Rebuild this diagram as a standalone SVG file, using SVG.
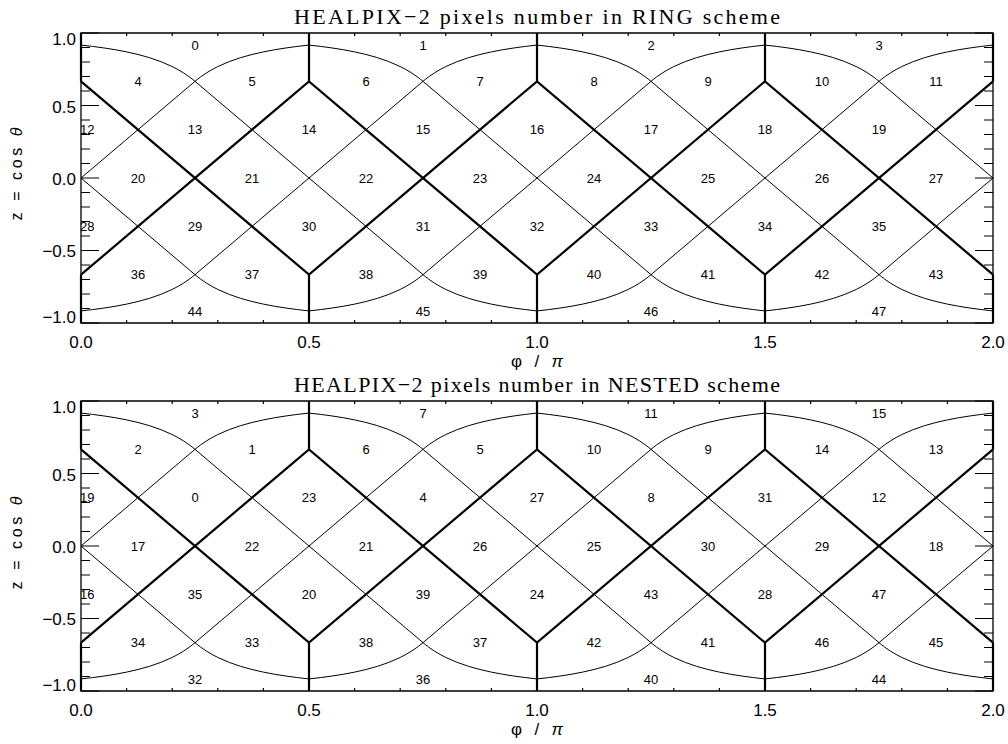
<svg xmlns="http://www.w3.org/2000/svg" width="1008" height="744" viewBox="0 0 1008 744">
<style>
.thin{fill:none;stroke:#000;stroke-width:1}
.thick{fill:none;stroke:#000;stroke-width:2.2;stroke-linejoin:miter}
.frame{fill:none;stroke:#000;stroke-width:1.3}
.tick{fill:none;stroke:#000;stroke-width:1.2}
.ttl{font-family:"Liberation Serif","Times New Roman",serif;font-size:22px;fill:#000;text-anchor:middle}
.ax{font-family:"Liberation Sans",Arial,sans-serif;font-size:17px;fill:#000}
.axm{text-anchor:middle}
.axe{text-anchor:end}
.pix{font-family:"Liberation Sans",Arial,sans-serif;font-size:13px;fill:#000;text-anchor:middle}
.pixs{text-anchor:start}
.gr{font-style:italic}
</style>
<defs>
<path id="arc" d="M0,-132.92 L11.4,-131.61 L22.8,-130.08 L34.2,-128.28 L45.6,-126.12 L57,-123.52 L68.4,-120.34 L79.8,-116.4 L91.2,-111.44 L96.9,-108.45 L102.6,-105.06 L108.3,-101.16 L111.15,-99 L114,-96.67 L116.85,-99 L119.7,-101.16 L125.4,-105.06 L131.1,-108.45 L136.8,-111.44 L148.2,-116.4 L159.6,-120.34 L171,-123.52 L182.4,-126.12 L193.8,-128.28 L205.2,-130.08 L216.6,-131.61 L228,-132.92"/>
<g id="grid">
<path class="frame" d="M81 33H993V323H81Z"/>
<path class="tick" d="M126.6 33v3M172.2 33v3M217.8 33v3M263.4 33v3M354.6 33v3M400.2 33v3M445.8 33v3M491.4 33v3M582.6 33v3M628.2 33v3M673.8 33v3M719.4 33v3M810.6 33v3M856.2 33v3M901.8 33v3M947.4 33v3M309 33v6M537 33v6M765 33v6
M126.6 323v-3M172.2 323v-3M217.8 323v-3M263.4 323v-3M354.6 323v-3M400.2 323v-3M445.8 323v-3M491.4 323v-3M582.6 323v-3M628.2 323v-3M673.8 323v-3M719.4 323v-3M810.6 323v-3M856.2 323v-3M901.8 323v-3M947.4 323v-3M309 323v-6M537 323v-6M765 323v-6
M81 47.5h9M81 62h9M81 76.5h9M81 91h9M81 120h9M81 134.5h9M81 149h9M81 163.5h9M81 192.5h9M81 207h9M81 221.5h9M81 236h9M81 265h9M81 279.5h9M81 294h9M81 308.5h9M81 33h18M81 105.5h18M81 178h18M81 250.5h18M81 323h18
M993 47.5h-9M993 62h-9M993 76.5h-9M993 91h-9M993 120h-9M993 134.5h-9M993 149h-9M993 163.5h-9M993 192.5h-9M993 207h-9M993 221.5h-9M993 236h-9M993 265h-9M993 279.5h-9M993 294h-9M993 308.5h-9M993 33h-18M993 105.5h-18M993 178h-18M993 250.5h-18M993 323h-18"/>
<g class="thin">
<path d="M81 178L195 81.33L423 274.67L651 81.33L879 274.67L993 178"/>
<path d="M81 178L195 274.67L423 81.33L651 274.67L879 81.33L993 178"/>
<use href="#arc" x="81" y="178"/>
<use href="#arc" x="309" y="178"/>
<use href="#arc" x="537" y="178"/>
<use href="#arc" x="765" y="178"/>
<use href="#arc" transform="translate(81 178) scale(1 -1)"/>
<use href="#arc" transform="translate(309 178) scale(1 -1)"/>
<use href="#arc" transform="translate(537 178) scale(1 -1)"/>
<use href="#arc" transform="translate(765 178) scale(1 -1)"/>
</g>
<g class="thick">
<path d="M81 81.33L309 274.67L537 81.33L765 274.67L993 81.33"/>
<path d="M81 274.67L309 81.33L537 274.67L765 81.33L993 274.67"/>
<path d="M81 33V81.33M309 33V81.33M537 33V81.33M765 33V81.33M993 33V81.33M81 274.67V323M309 274.67V323M537 274.67V323M765 274.67V323M993 274.67V323"/>
</g>
</g>
</defs>
<rect width="1008" height="744" fill="#fff"/>

<g id="panel-ring">
<use href="#grid"/>
<text class="ttl" x="537" y="24" textLength="486" lengthAdjust="spacing">HEALPIX−2 pixels number in RING scheme</text>
<g class="ax axm">
<text x="81" y="348">0.0</text><text x="309" y="348">0.5</text><text x="537" y="348">1.0</text><text x="765" y="348">1.5</text><text x="993" y="348">2.0</text>
<text x="537" y="367" textLength="52" lengthAdjust="spacing">φ / <tspan class="gr">π</tspan></text>
</g>
<g class="ax axe">
<text x="76" y="45">1.0</text><text x="76" y="112.5">0.5</text><text x="76" y="184.5">0.0</text><text x="76" y="257">−0.5</text><text x="76" y="323">−1.0</text>
</g>
<text class="ax axm" style="font-size:16px" transform="translate(21.5 174) rotate(-90)" textLength="93" lengthAdjust="spacing">z = cos <tspan class="gr">θ</tspan></text>
<g class="pix">
<text x="195" y="49.7">0</text><text x="423" y="49.7">1</text><text x="651" y="49.7">2</text><text x="879" y="49.7">3</text>
<text x="138" y="86">4</text><text x="252" y="86">5</text><text x="366" y="86">6</text><text x="480" y="86">7</text><text x="594" y="86">8</text><text x="708" y="86">9</text><text x="822" y="86">10</text><text x="936" y="86">11</text>
<text class="pixs" x="80" y="134.4">12</text><text x="195" y="134.4">13</text><text x="309" y="134.4">14</text><text x="423" y="134.4">15</text><text x="537" y="134.4">16</text><text x="651" y="134.4">17</text><text x="765" y="134.4">18</text><text x="879" y="134.4">19</text>
<text x="138" y="182.7">20</text><text x="252" y="182.7">21</text><text x="366" y="182.7">22</text><text x="480" y="182.7">23</text><text x="594" y="182.7">24</text><text x="708" y="182.7">25</text><text x="822" y="182.7">26</text><text x="936" y="182.7">27</text>
<text class="pixs" x="80" y="231">28</text><text x="195" y="231">29</text><text x="309" y="231">30</text><text x="423" y="231">31</text><text x="537" y="231">32</text><text x="651" y="231">33</text><text x="765" y="231">34</text><text x="879" y="231">35</text>
<text x="138" y="279.4">36</text><text x="252" y="279.4">37</text><text x="366" y="279.4">38</text><text x="480" y="279.4">39</text><text x="594" y="279.4">40</text><text x="708" y="279.4">41</text><text x="822" y="279.4">42</text><text x="936" y="279.4">43</text>
<text x="195" y="315.6">44</text><text x="423" y="315.6">45</text><text x="651" y="315.6">46</text><text x="879" y="315.6">47</text>
</g>
</g>

<g id="panel-nested">
<use href="#grid" y="368"/>
<text class="ttl" x="537" y="392" textLength="486" lengthAdjust="spacing">HEALPIX−2 pixels number in NESTED scheme</text>
<g class="ax axm">
<text x="81" y="716">0.0</text><text x="309" y="716">0.5</text><text x="537" y="716">1.0</text><text x="765" y="716">1.5</text><text x="993" y="716">2.0</text>
<text x="537" y="735" textLength="52" lengthAdjust="spacing">φ / <tspan class="gr">π</tspan></text>
</g>
<g class="ax axe">
<text x="76" y="413">1.0</text><text x="76" y="480.5">0.5</text><text x="76" y="552.5">0.0</text><text x="76" y="625">−0.5</text><text x="76" y="691">−1.0</text>
</g>
<text class="ax axm" style="font-size:16px" transform="translate(21.5 543) rotate(-90)" textLength="93" lengthAdjust="spacing">z = cos <tspan class="gr">θ</tspan></text>
<g class="pix">
<text x="195" y="417.7">3</text><text x="423" y="417.7">7</text><text x="651" y="417.7">11</text><text x="879" y="417.7">15</text>
<text x="138" y="454">2</text><text x="252" y="454">1</text><text x="366" y="454">6</text><text x="480" y="454">5</text><text x="594" y="454">10</text><text x="708" y="454">9</text><text x="822" y="454">14</text><text x="936" y="454">13</text>
<text class="pixs" x="80" y="502.4">19</text><text x="195" y="502.4">0</text><text x="309" y="502.4">23</text><text x="423" y="502.4">4</text><text x="537" y="502.4">27</text><text x="651" y="502.4">8</text><text x="765" y="502.4">31</text><text x="879" y="502.4">12</text>
<text x="138" y="550.7">17</text><text x="252" y="550.7">22</text><text x="366" y="550.7">21</text><text x="480" y="550.7">26</text><text x="594" y="550.7">25</text><text x="708" y="550.7">30</text><text x="822" y="550.7">29</text><text x="936" y="550.7">18</text>
<text class="pixs" x="80" y="599">16</text><text x="195" y="599">35</text><text x="309" y="599">20</text><text x="423" y="599">39</text><text x="537" y="599">24</text><text x="651" y="599">43</text><text x="765" y="599">28</text><text x="879" y="599">47</text>
<text x="138" y="647.4">34</text><text x="252" y="647.4">33</text><text x="366" y="647.4">38</text><text x="480" y="647.4">37</text><text x="594" y="647.4">42</text><text x="708" y="647.4">41</text><text x="822" y="647.4">46</text><text x="936" y="647.4">45</text>
<text x="195" y="683.6">32</text><text x="423" y="683.6">36</text><text x="651" y="683.6">40</text><text x="879" y="683.6">44</text>
</g>
</g>
</svg>
